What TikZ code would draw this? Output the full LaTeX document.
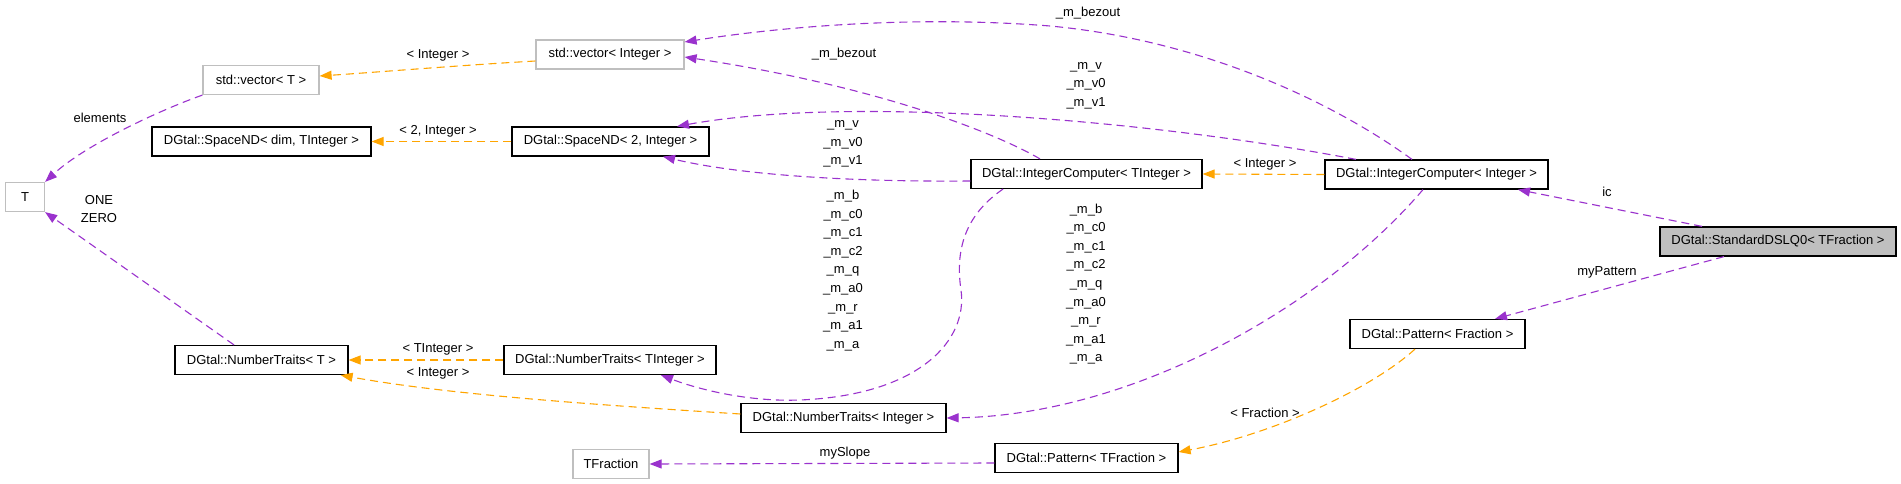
\documentclass[tikz,border=0pt]{standalone}
\usepackage{fontspec}
\setmainfont{Liberation Sans}
\usetikzlibrary{arrows.meta}
\definecolor{edgepurple}{HTML}{9A32CD}
\definecolor{edgeorange}{HTML}{FFA500}
\definecolor{boxgray}{HTML}{BFBFBF}
\begin{document}
\begin{tikzpicture}[x=1pt,y=-1pt,
  font=\fontsize{13}{18.6}\selectfont,
  cls/.style={draw=black, line width=1.2pt, minimum height=29pt, inner sep=0pt},
  ext/.style={draw=boxgray, line width=1.2pt, minimum height=29pt, inner sep=0pt},
  focus/.style={cls, fill=boxgray},
  usage/.style={draw=edgepurple, line width=1.1pt, dash pattern=on 8pt off 5pt,
    -{Triangle[length=12pt,width=9pt,fill=edgepurple]}},
  templ/.style={draw=edgeorange, line width=1.1pt, dash pattern=on 8pt off 5pt,
    -{Triangle[length=12pt,width=9pt,fill=edgeorange]}},
  lbl/.style={inner sep=0pt, align=center}
]
\useasboundingbox (0,0) rectangle (1901,484);

% nodes
\node[ext, minimum width=39pt]  (T)       at (25,197)     {T};
\node[ext, minimum width=116pt] (vecT)    at (261,80)     {std::vector< T >};
\node[ext, minimum width=148pt] (vecInt)  at (610,54.5)   {std::vector< Integer >};
\node[cls, minimum width=219pt] (spaceDim) at (261.5,141.5) {DGtal::SpaceND< dim, TInteger >};
\node[cls, minimum width=197pt] (space2)  at (610.5,141.5) {DGtal::SpaceND< 2, Integer >};
\node[cls, minimum width=173pt] (ntT)     at (261.5,360)  {DGtal::NumberTraits< T >};
\node[cls, minimum width=212pt] (ntTI)    at (610,360)    {DGtal::NumberTraits< TInteger >};
\node[ext, minimum width=76pt]  (tfrac)   at (611,464)    {TFraction};
\node[cls, minimum width=231pt] (icTI)    at (1086.5,174) {DGtal::IntegerComputer< TInteger >};
\node[cls, minimum width=223pt] (icI)     at (1436.5,174.5) {DGtal::IntegerComputer< Integer >};
\node[cls, minimum width=205pt] (ntI)     at (843.5,418)  {DGtal::NumberTraits< Integer >};
\node[cls, minimum width=183pt] (patTF)   at (1086.5,458) {DGtal::Pattern< TFraction >};
\node[focus, minimum width=236pt] (sdslq) at (1778,241.5) {DGtal::StandardDSLQ0< TFraction >};
\node[cls, minimum width=175pt] (patF)    at (1437.5,334) {DGtal::Pattern< Fraction >};

% edges
\draw[usage] (vecT.south west) .. controls (160,110) and (85,145) .. (T.north east);
\draw[templ] ([yshift=-6.5pt]vecInt.west) .. controls (450,66) and (380,72) .. ([yshift=4pt]vecT.east);
\draw[templ] (space2.west) -- (spaceDim.east);
\draw[usage] ([xshift=-27.5pt]ntT.north) -- (T.south east);
\draw[templ] (ntTI.west) -- (ntT.east);
\draw[templ] ([yshift=4pt]ntI.west) .. controls (600,405) and (450,395) .. ([xshift=-8pt]ntT.south east);
\draw[usage] ([xshift=-46.5pt]icTI.north) .. controls (990,130) and (870,85) .. ([yshift=-2.5pt]vecInt.east);
\draw[usage] ([xshift=-24.5pt]icI.north) .. controls (1330,100) and (1200,40) .. (1050,26)
   .. controls (900,14) and (760,30) .. ([yshift=12.5pt]vecInt.east);
\draw[usage] ([yshift=-7pt]icTI.west) .. controls (850,182) and (740,175) .. ([xshift=52.5pt]space2.south);
\draw[usage] ([xshift=-80.5pt]icI.north) .. controls (1150,120) and (850,95) .. ([xshift=66.5pt]space2.north);
\draw[templ] (icI.west) -- (icTI.east);
\draw[usage] ([xshift=-83.5pt]icTI.south) .. controls (965,215) and (955,250) .. (961,290)
   .. controls (968,340) and (920,395) .. (800,400)
   .. controls (750,402) and (700,390) .. ([xshift=51pt]ntTI.south);
\draw[usage] ([xshift=-13.5pt]icI.south) .. controls (1320,310) and (1130,415) .. (ntI.east);
\draw[usage] ([xshift=-76pt]sdslq.north) -- ([xshift=81.5pt]icI.south);
\draw[usage] ([xshift=-54pt]sdslq.south) -- ([xshift=57.5pt]patF.north);
\draw[templ] ([xshift=-22.5pt]patF.south) .. controls (1370,390) and (1270,435) .. ([yshift=6pt]patTF.east);
\draw[usage] ([yshift=-5pt]patTF.west) -- (tfrac.east);

% labels
\node[lbl] (lElem) at (100,118) {elements};
\node[lbl] (lVecI) at (438,55) {< Integer >};
\node[lbl] (lSp) at (438,131) {< 2, Integer >};
\node[lbl] (lOne) at (99,209) {ONE\\ZERO};
\node[lbl] (lNtTI) at (438,349) {< TInteger >};
\node[lbl] (lNtI) at (438,373) {< Integer >};
\node[lbl] (lBez1) at (1088,13) {\_m\_bezout};
\node[lbl] (lBez2) at (844,54) {\_m\_bezout};
\node[lbl] (lVr) at (1086,85.5) {\_m\_v\\\_m\_v0\\\_m\_v1};
\node[lbl] (lVl) at (843,144) {\_m\_v\\\_m\_v0\\\_m\_v1};
\node[lbl] (lIcI) at (1265,164) {< Integer >};
\node[lbl] (lBl) at (843,270.5) {\_m\_b\\\_m\_c0\\\_m\_c1\\\_m\_c2\\\_m\_q\\\_m\_a0\\\_m\_r\\\_m\_a1\\\_m\_a};
\node[lbl] (lBr) at (1086,284) {\_m\_b\\\_m\_c0\\\_m\_c1\\\_m\_c2\\\_m\_q\\\_m\_a0\\\_m\_r\\\_m\_a1\\\_m\_a};
\node[lbl] (lIc) at (1607,192) {ic};
\node[lbl] (lPat) at (1607,272) {myPattern};
\node[lbl] (lFr) at (1265,413) {< Fraction >};
\node[lbl] (lSl) at (845,453) {mySlope};
\end{tikzpicture}
\end{document}
